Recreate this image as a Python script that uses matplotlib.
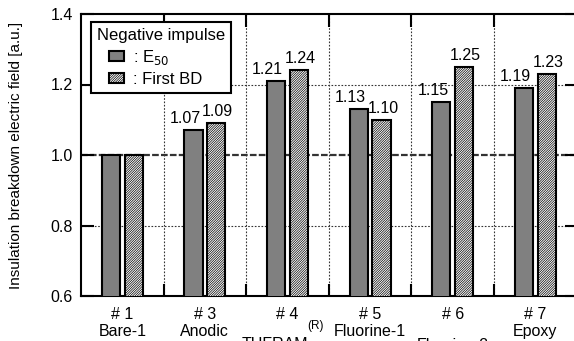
import numpy as np
import matplotlib
matplotlib.use("Agg")
import matplotlib.pyplot as plt
from matplotlib.patches import Patch, Rectangle
from matplotlib.legend_handler import HandlerPatch

plt.rcParams['font.family'] = ['Liberation Sans', 'DejaVu Sans']
plt.rcParams['hatch.color'] = '#444444'
plt.rcParams['hatch.linewidth'] = 0.5

###
# DATA
###
sample_ids = ["# 1", "# 3", "# 4", "# 5", "# 6", "# 7"]
sample_names = ["Bare-1", "Anodic", "TUFRAM", "Fluorine-1", "Fluorine-2", "Epoxy"]
e50 = [1.00, 1.07, 1.21, 1.13, 1.15, 1.19]
first_bd = [1.00, 1.09, 1.24, 1.10, 1.25, 1.23]
e50_labels = ["", "1.07", "1.21", "1.13", "1.15", "1.19"]
bd_labels = ["", "1.09", "1.24", "1.10", "1.25", "1.23"]
yticks = [0.6, 0.8, 1.0, 1.2, 1.4]

HATCH = '/' * 14

###
# FIGURE
###
W, H = 574, 341
fig = plt.figure(figsize=(W / 100, H / 100), dpi=100)
ax = fig.add_axes([81 / W, (H - 296) / H, 495.6 / W, 282 / H])

x = np.arange(len(e50)) + 0.5
off = 0.139
bw = 0.22
ax.bar(x - off, e50, bw, color='#808080', edgecolor='black', linewidth=1.5, zorder=3)
ax.bar(x + off, first_bd, bw, color='white', edgecolor='black', linewidth=1.5,
       hatch=HATCH, zorder=3)

# value labels
for xi, v, t in zip(x, e50, e50_labels):
    ax.annotate(t, (xi - off, v), xytext=(-6, 3), textcoords='offset points',
                ha='center', va='bottom', fontsize=11.5)
for xi, v, t in zip(x, first_bd, bd_labels):
    ax.annotate(t, (xi + off, v), xytext=(1, 3), textcoords='offset points',
                ha='center', va='bottom', fontsize=11.5)

ax.set_xlim(0, len(e50))
ax.set_ylim(0.6, 1.4)
ax.set_yticks(yticks)
ax.set_yticklabels([f"{t:.1f}" for t in yticks])
ax.set_xticks(np.arange(1, len(e50)))
ax.set_xticklabels([])
ax.tick_params(axis='both', direction='in', length=9, width=1.5, top=True, right=True,
               labelsize=11.5, pad=6)

# grid
for g in np.arange(1, len(e50)):
    ax.axvline(g, color='#333333', linestyle=(0, (1.5, 1.5)), linewidth=0.8, zorder=1)
for g in [0.8, 1.2]:
    ax.axhline(g, color='#333333', linestyle=(0, (1.5, 1.5)), linewidth=0.8, zorder=1)
ax.axhline(1.0, color='#333333', linestyle=(0, (3, 1)), linewidth=1.6, zorder=1)

for s in ax.spines.values():
    s.set_linewidth(1.5)

# category labels
for xi, sid, nm in zip(x, sample_ids, sample_names):
    ax.annotate(sid, (xi, 0), xycoords=('data', 'axes fraction'), xytext=(0, -8),
                textcoords='offset points', ha='center', va='top', fontsize=11.5)
    if nm == "TUFRAM":
        ax.annotate(nm, (xi, 0), xycoords=('data', 'axes fraction'),
                    xytext=(-9, -29.5), textcoords='offset points',
                    ha='center', va='top', fontsize=11.5)
        ax.annotate("(R)", (xi, 0), xycoords=('data', 'axes fraction'),
                    xytext=(14.4, -17), textcoords='offset points',
                    ha='left', va='top', fontsize=8.5)
    elif nm == "Fluorine-2":
        ax.annotate(nm, (xi, 0), xycoords=('data', 'axes fraction'),
                    xytext=(0, -30.5), textcoords='offset points',
                    ha='center', va='top', fontsize=11.5)
    else:
        ax.annotate(nm, (xi, 0), xycoords=('data', 'axes fraction'),
                    xytext=(0, -20), textcoords='offset points',
                    ha='center', va='top', fontsize=11.5)

ax.set_ylabel("Insulation breakdown electric field [a.u.]", fontsize=11)
ax.yaxis.set_label_coords(-58 / 495.6, 0.5)


def small_box(legend, orig_handle, xdescent, ydescent, width, height, fontsize):
    w = 0.9 * fontsize
    return Rectangle((width - xdescent - w, -ydescent), w, height)


handles = [Patch(facecolor='#808080', edgecolor='black', linewidth=1.5),
           Patch(facecolor='white', edgecolor='black', linewidth=1.5, hatch=HATCH)]
leg = ax.legend(handles, [r": E$_{50}$", ": First BD"], title="Negative impulse",
                loc='upper left', bbox_to_anchor=(10 / 495.6, 1 - 8 / 282),
                borderaxespad=0,
                fontsize=12, title_fontsize=12, frameon=True, fancybox=False,
                edgecolor='black', framealpha=1, handlelength=1.6, handleheight=0.55,
                handletextpad=0.55, borderpad=0.35, labelspacing=0.3, alignment='left',
                handler_map={Patch: HandlerPatch(patch_func=small_box)})
leg.get_frame().set_linewidth(1.5)
leg.set_zorder(5)

fig.savefig("out.png", dpi=100)
